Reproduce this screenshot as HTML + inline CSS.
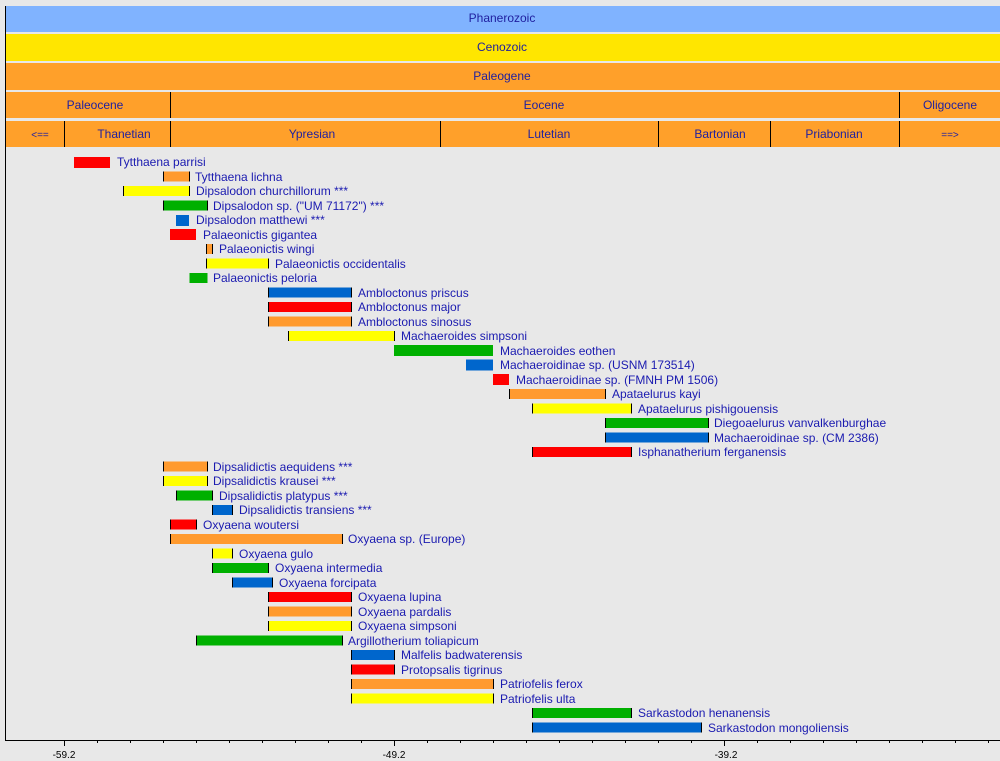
<!DOCTYPE html>
<html><head><meta charset="utf-8"><style>
html,body{margin:0;padding:0;background:#e8e8e8;}
svg{display:block;font-family:"Liberation Sans",sans-serif;}
.h{font-size:12px;fill:#2020a0;text-anchor:middle}
.l{font-size:12px;fill:#1a1ab0}
.t{font-size:10px;fill:#000;text-anchor:middle}
</style></head><body>
<svg width="1000" height="761" xmlns="http://www.w3.org/2000/svg">
<rect width="1000" height="761" fill="#e8e8e8"/>
<rect x="5" y="6" width="995" height="26" fill="#80b3ff"/>
<rect x="5" y="34" width="995" height="27" fill="#ffe600"/>
<rect x="5" y="63" width="995" height="27" fill="#ffa02a"/>
<rect x="5" y="92" width="995" height="26" fill="#ffa02a"/>
<rect x="5" y="121" width="995" height="26" fill="#ffa02a"/>
<text class="h" x="502" y="22">Phanerozoic</text>
<text class="h" x="502" y="51">Cenozoic</text>
<text class="h" x="502" y="80">Paleogene</text>
<g stroke="#000" stroke-width="1">
<line x1="170.5" y1="92" x2="170.5" y2="118"/><line x1="899.5" y1="92" x2="899.5" y2="118"/>
<line x1="64.5" y1="121" x2="64.5" y2="147"/><line x1="170.5" y1="121" x2="170.5" y2="147"/>
<line x1="440.5" y1="121" x2="440.5" y2="147"/><line x1="658.5" y1="121" x2="658.5" y2="147"/>
<line x1="770.5" y1="121" x2="770.5" y2="147"/><line x1="899.5" y1="121" x2="899.5" y2="147"/>
</g>
<text class="h" x="95" y="109">Paleocene</text>
<text class="h" x="544" y="109">Eocene</text>
<text class="h" x="950" y="109">Oligocene</text>
<text class="h" x="40" y="138" style="font-size:10px">&lt;==</text>
<text class="h" x="124" y="138">Thanetian</text>
<text class="h" x="312" y="138">Ypresian</text>
<text class="h" x="549" y="138">Lutetian</text>
<text class="h" x="720" y="138">Bartonian</text>
<text class="h" x="834" y="138">Priabonian</text>
<text class="h" x="950" y="138" style="font-size:10px">==&gt;</text>
<line x1="5.5" y1="6" x2="5.5" y2="741" stroke="#000"/>
<line x1="5" y1="740.5" x2="1000" y2="740.5" stroke="#000"/>
<g stroke="#000">
<line x1="64.5" y1="740" x2="64.5" y2="746"/><line x1="394.5" y1="740" x2="394.5" y2="746"/><line x1="724.5" y1="740" x2="724.5" y2="746"/>
<line x1="97.5" y1="740" x2="97.5" y2="743"/><line x1="130.5" y1="740" x2="130.5" y2="743"/><line x1="163.5" y1="740" x2="163.5" y2="743"/><line x1="196.5" y1="740" x2="196.5" y2="743"/><line x1="229.5" y1="740" x2="229.5" y2="743"/><line x1="262.5" y1="740" x2="262.5" y2="743"/><line x1="295.5" y1="740" x2="295.5" y2="743"/><line x1="328.5" y1="740" x2="328.5" y2="743"/><line x1="361.5" y1="740" x2="361.5" y2="743"/>
<line x1="427.5" y1="740" x2="427.5" y2="743"/><line x1="460.5" y1="740" x2="460.5" y2="743"/><line x1="493.5" y1="740" x2="493.5" y2="743"/><line x1="526.5" y1="740" x2="526.5" y2="743"/><line x1="559.5" y1="740" x2="559.5" y2="743"/><line x1="592.5" y1="740" x2="592.5" y2="743"/><line x1="625.5" y1="740" x2="625.5" y2="743"/><line x1="658.5" y1="740" x2="658.5" y2="743"/><line x1="691.5" y1="740" x2="691.5" y2="743"/>
<line x1="757.5" y1="740" x2="757.5" y2="743"/><line x1="790.5" y1="740" x2="790.5" y2="743"/><line x1="823.5" y1="740" x2="823.5" y2="743"/><line x1="856.5" y1="740" x2="856.5" y2="743"/><line x1="889.5" y1="740" x2="889.5" y2="743"/><line x1="922.5" y1="740" x2="922.5" y2="743"/><line x1="955.5" y1="740" x2="955.5" y2="743"/><line x1="988.5" y1="740" x2="988.5" y2="743"/>
</g>
<text class="t" x="64" y="758">-59.2</text>
<text class="t" x="394" y="758">-49.2</text>
<text class="t" x="726" y="758">-39.2</text>
<g stroke="#000" stroke-width="1">
<rect x="74" y="157" width="36" height="11" fill="#ff0000" stroke="none"/>
<rect x="163.5" y="171.5" width="26" height="10" fill="#ff9a2e" stroke-dasharray="0 26 10 26 10"/>
<rect x="123.5" y="186" width="66" height="10" fill="#ffff00" stroke-dasharray="0 66 10 66 10"/>
<rect x="163.5" y="200.5" width="44" height="10" fill="#00b000" stroke-dasharray="0 44 10 44 10"/>
<rect x="176" y="215" width="13" height="11" fill="#0066cc" stroke="none"/>
<rect x="170" y="229" width="26" height="11" fill="#ff0000" stroke="none"/>
<rect x="206.5" y="244" width="6" height="10" fill="#ff9a2e" stroke-dasharray="0 6 10 6 10"/>
<rect x="206.5" y="258.5" width="62" height="10" fill="#ffff00" stroke-dasharray="0 62 10 62 10"/>
<rect x="189.5" y="273" width="18" height="10" fill="#00b000" stroke="none"/>
<rect x="268.5" y="287.5" width="83" height="10" fill="#0066cc" stroke-dasharray="0 83 10 83 10"/>
<rect x="268.5" y="302" width="83" height="10" fill="#ff0000" stroke-dasharray="0 83 10 83 10"/>
<rect x="268.5" y="316.5" width="83" height="10" fill="#ff9a2e" stroke-dasharray="0 83 10 83 10"/>
<rect x="288.5" y="331" width="106" height="10" fill="#ffff00" stroke-dasharray="0 106 10 106 10"/>
<rect x="394" y="345" width="99" height="11" fill="#00b000" stroke="none"/>
<rect x="466" y="359.5" width="27" height="11" fill="#0066cc" stroke="none"/>
<rect x="493" y="374" width="16" height="11" fill="#ff0000" stroke="none"/>
<rect x="509.5" y="389" width="96" height="10" fill="#ff9a2e" stroke-dasharray="0 96 10 96 10"/>
<rect x="532.5" y="403.5" width="99" height="10" fill="#ffff00" stroke-dasharray="0 99 10 99 10"/>
<rect x="605.5" y="418" width="103" height="10" fill="#00b000" stroke-dasharray="0 103 10 103 10"/>
<rect x="605.5" y="432.5" width="103" height="10" fill="#0066cc" stroke-dasharray="0 103 10 103 10"/>
<rect x="532.5" y="447" width="99" height="10" fill="#ff0000" stroke-dasharray="0 99 10 99 10"/>
<rect x="163.5" y="461.5" width="44" height="10" fill="#ff9a2e" stroke-dasharray="0 44 10 44 10"/>
<rect x="163.5" y="476" width="44" height="10" fill="#ffff00" stroke-dasharray="0 44 10 44 10"/>
<rect x="176.5" y="490.5" width="36" height="10" fill="#00b000" stroke-dasharray="0 36 10 36 10"/>
<rect x="212.5" y="505" width="20" height="10" fill="#0066cc" stroke-dasharray="0 20 10 20 10"/>
<rect x="170.5" y="519.5" width="26" height="10" fill="#ff0000" stroke-dasharray="0 26 10 26 10"/>
<rect x="170.5" y="534" width="172" height="10" fill="#ff9a2e" stroke-dasharray="0 172 10 172 10"/>
<rect x="212.5" y="548.5" width="20" height="10" fill="#ffff00" stroke-dasharray="0 20 10 20 10"/>
<rect x="212.5" y="563" width="56" height="10" fill="#00b000" stroke-dasharray="0 56 10 56 10"/>
<rect x="232.5" y="577.5" width="40" height="10" fill="#0066cc" stroke-dasharray="0 40 10 40 10"/>
<rect x="268.5" y="592" width="83" height="10" fill="#ff0000" stroke-dasharray="0 83 10 83 10"/>
<rect x="268.5" y="606.5" width="83" height="10" fill="#ff9a2e" stroke-dasharray="0 83 10 83 10"/>
<rect x="268.5" y="621" width="83" height="10" fill="#ffff00" stroke-dasharray="0 83 10 83 10"/>
<rect x="196.5" y="635.5" width="146" height="10" fill="#00b000" stroke-dasharray="0 146 10 146 10"/>
<rect x="351.5" y="650" width="43" height="10" fill="#0066cc" stroke-dasharray="0 43 10 43 10"/>
<rect x="351.5" y="664.5" width="43" height="10" fill="#ff0000" stroke-dasharray="0 43 10 43 10"/>
<rect x="351.5" y="679" width="142" height="10" fill="#ff9a2e" stroke-dasharray="0 142 10 142 10"/>
<rect x="351.5" y="693.5" width="142" height="10" fill="#ffff00" stroke-dasharray="0 142 10 142 10"/>
<rect x="532.5" y="708" width="99" height="10" fill="#00b000" stroke-dasharray="0 99 10 99 10"/>
<rect x="532.5" y="722.5" width="169" height="10" fill="#0066cc" stroke-dasharray="0 169 10 169 10"/>
</g>
<g class="l">
<text x="117" y="166">Tytthaena parrisi</text>
<text x="195" y="181">Tytthaena lichna</text>
<text x="196" y="195">Dipsalodon churchillorum ***</text>
<text x="213" y="210">Dipsalodon sp. ("UM 71172") ***</text>
<text x="196" y="224">Dipsalodon matthewi ***</text>
<text x="203" y="239">Palaeonictis gigantea</text>
<text x="219" y="253">Palaeonictis wingi</text>
<text x="275" y="268">Palaeonictis occidentalis</text>
<text x="213" y="282">Palaeonictis peloria</text>
<text x="358" y="297">Ambloctonus priscus</text>
<text x="358" y="311">Ambloctonus major</text>
<text x="358" y="326">Ambloctonus sinosus</text>
<text x="401" y="340">Machaeroides simpsoni</text>
<text x="500" y="355">Machaeroides eothen</text>
<text x="500" y="369">Machaeroidinae sp. (USNM 173514)</text>
<text x="516" y="384">Machaeroidinae sp. (FMNH PM 1506)</text>
<text x="612" y="398">Apataelurus kayi</text>
<text x="638" y="413">Apataelurus pishigouensis</text>
<text x="714" y="427">Diegoaelurus vanvalkenburghae</text>
<text x="714" y="442">Machaeroidinae sp. (CM 2386)</text>
<text x="638" y="456">Isphanatherium ferganensis</text>
<text x="213" y="471">Dipsalidictis aequidens ***</text>
<text x="213" y="485">Dipsalidictis krausei ***</text>
<text x="219" y="500">Dipsalidictis platypus ***</text>
<text x="239" y="514">Dipsalidictis transiens ***</text>
<text x="203" y="529">Oxyaena woutersi</text>
<text x="348" y="543">Oxyaena sp. (Europe)</text>
<text x="239" y="558">Oxyaena gulo</text>
<text x="275" y="572">Oxyaena intermedia</text>
<text x="279" y="587">Oxyaena forcipata</text>
<text x="358" y="601">Oxyaena lupina</text>
<text x="358" y="616">Oxyaena pardalis</text>
<text x="358" y="630">Oxyaena simpsoni</text>
<text x="348" y="645">Argillotherium toliapicum</text>
<text x="401" y="659">Malfelis badwaterensis</text>
<text x="401" y="674">Protopsalis tigrinus</text>
<text x="500" y="688">Patriofelis ferox</text>
<text x="500" y="703">Patriofelis ulta</text>
<text x="638" y="717">Sarkastodon henanensis</text>
<text x="708" y="732">Sarkastodon mongoliensis</text>
</g>
</svg>
</body></html>
